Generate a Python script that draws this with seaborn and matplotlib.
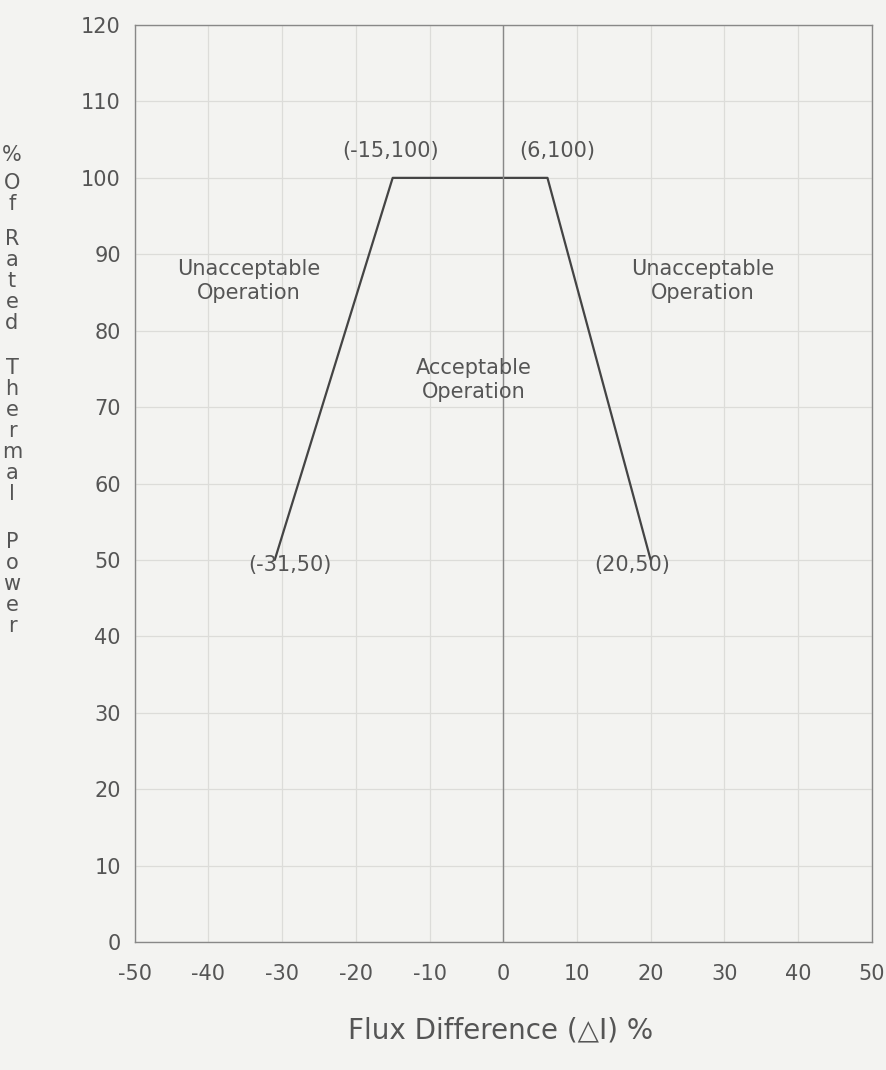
import matplotlib
matplotlib.use("Agg")
import matplotlib.pyplot as plt
import seaborn as sns
import pandas as pd

# Data
flux_diff = [-31, -15, 6, 20]
power_pct = [50, 100, 100, 50]
x_ticks = [-50, -40, -30, -20, -10, 0, 10, 20, 30, 40, 50]
y_ticks = [0, 10, 20, 30, 40, 50, 60, 70, 80, 90, 100, 110, 120]
point_labels = ["(-15,100)", "(6,100)", "(-31,50)", "(20,50)"]
ylabel_words = ["%", "Of", "Rated", "Thermal", "Power"]

sns.set_theme(style="white")
plt.rcParams['font.family'] = ['DejaVu Sans']

bg = "#f3f3f1"
txt = "#555555"
fig = plt.figure(figsize=(8.86, 10.70), dpi=100, facecolor=bg)
ax = fig.add_axes([0.152, 0.1196, 0.832, 0.857])
ax.set_facecolor(bg)

df = pd.DataFrame({"x": flux_diff, "y": power_pct})
sns.lineplot(data=df, x="x", y="y", ax=ax, color="#444444", linewidth=1.6, sort=False)

ax.set_xlim(-50, 50)
ax.set_ylim(0, 120)
ax.set_xticks(x_ticks)
ax.set_yticks(y_ticks)
ax.set_xticklabels([str(v) for v in x_ticks])
ax.set_yticklabels([str(v) for v in y_ticks])
ax.grid(True, color="#dcdcd9", linewidth=0.9)
ax.axvline(0, color="#888888", linewidth=1.0)
ax.tick_params(axis="both", direction="in", length=6, width=1, color="#888888",
               labelsize=15, labelcolor=txt, pad=10)
ax.tick_params(axis="x", pad=16)
for s in ax.spines.values():
    s.set_color("#888888")
    s.set_linewidth(1.0)
ax.set_xlabel("")
ax.set_ylabel("")

# annotations
ax.text(-15.3, 103.5, point_labels[0], ha="center", va="center", fontsize=15, color=txt)
ax.text(7.3, 103.5, point_labels[1], ha="center", va="center", fontsize=15, color=txt)
ax.text(-29, 49.3, point_labels[2], ha="center", va="center", fontsize=15, color=txt)
ax.text(17.5, 49.3, point_labels[3], ha="center", va="center", fontsize=15, color=txt)
ax.text(-34.5, 86.5, "Unacceptable\nOperation", ha="center", va="center", fontsize=15,
        color=txt, linespacing=1.25)
ax.text(27, 86.5, "Unacceptable\nOperation", ha="center", va="center", fontsize=15,
        color=txt, linespacing=1.25)
ax.text(-4, 73.5, "Acceptable\nOperation", ha="center", va="center", fontsize=15,
        color=txt, linespacing=1.25)

fig.text(0.565, 1 - 1030 / 1070, "Flux Difference (△I) %", ha="center", va="center",
         fontsize=20, color=txt)

# stacked vertical y-label
word_gaps = [0, 7, 14, 24, 27]
y = 155
for i, w in enumerate(ylabel_words):
    y += word_gaps[i]
    for ch in w:
        fig.text(12 / 886, 1 - y / 1070, ch, ha="center", va="center", fontsize=15, color=txt)
        y += 21

fig.savefig("out.png", dpi=100, facecolor=bg)
